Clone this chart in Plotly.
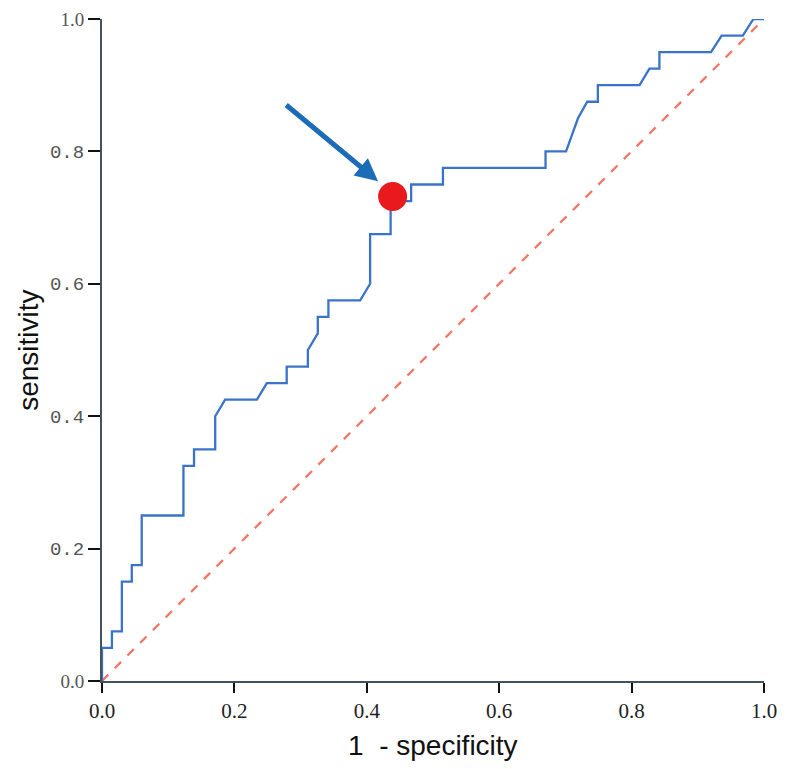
import plotly.graph_objects as go

# ROC curve vertices (1 - specificity, sensitivity)
fpr = [0.0, 0.0, 0.015, 0.015, 0.030, 0.030, 0.045, 0.045, 0.060, 0.060,
       0.123, 0.123, 0.139, 0.139, 0.171, 0.171, 0.186, 0.234, 0.249, 0.279,
       0.279, 0.311, 0.311, 0.326, 0.326, 0.342, 0.342, 0.390, 0.405, 0.405,
       0.436, 0.436, 0.467, 0.467, 0.515, 0.515, 0.670, 0.670, 0.701, 0.719,
       0.733, 0.749, 0.749, 0.812, 0.827, 0.842, 0.842, 0.920, 0.936, 0.968,
       0.984, 1.0]
tpr = [0.0, 0.05, 0.05, 0.075, 0.075, 0.15, 0.15, 0.175, 0.175, 0.25,
       0.25, 0.325, 0.325, 0.35, 0.35, 0.40, 0.425, 0.425, 0.45, 0.45,
       0.475, 0.475, 0.50, 0.525, 0.55, 0.55, 0.575, 0.575, 0.60, 0.675,
       0.675, 0.725, 0.725, 0.75, 0.75, 0.775, 0.775, 0.80, 0.80, 0.85,
       0.875, 0.875, 0.90, 0.90, 0.925, 0.925, 0.95, 0.95, 0.975, 0.975,
       1.0, 1.0]

# reference (chance) line
ref_x = [0.0, 1.0]
ref_y = [0.0, 1.0]

# optimal cut-off point and arrow tail/tip
cut_x = [0.439]
cut_y = [0.732]
arrow_tip = (0.417, 0.755)
arrow_tail = (0.276, 0.872)

tick_vals = [0.0, 0.2, 0.4, 0.6, 0.8, 1.0]
x_tick_text = ["0.0", "0.2", "0.4", "0.6", "0.8", "1.0"]
y_tick_text = ["<span style='font-family:Liberation Serif;font-size:19px'>0.0</span>",
               "0.2", "0.4", "0.6", "0.8",
               "<span style='font-family:Liberation Serif;font-size:19px'>1.0</span>"]

fig = go.Figure()
fig.add_trace(go.Scatter(x=ref_x, y=ref_y, mode="lines",
                         line=dict(color="#F07868", width=2.3, dash="dash"),
                         showlegend=False, hoverinfo="skip"))
fig.add_trace(go.Scatter(x=fpr, y=tpr, mode="lines",
                         line=dict(color="#3A73C9", width=2.3),
                         showlegend=False))
fig.add_trace(go.Scatter(x=cut_x, y=cut_y, mode="markers",
                         marker=dict(color="#E81A1E", size=29, line=dict(width=0)),
                         showlegend=False))

fig.add_annotation(x=arrow_tip[0], y=arrow_tip[1], ax=arrow_tail[0], ay=arrow_tail[1],
                   xref="x", yref="y", axref="x", ayref="y", text="",
                   showarrow=True, arrowhead=2, arrowsize=0.9, arrowwidth=5,
                   arrowcolor="#1C6CB8")

fig.add_annotation(text="sensitivity", xref="paper", yref="paper",
                   x=-0.112, y=0.5, textangle=-90, showarrow=False,
                   xanchor="center", yanchor="middle",
                   font=dict(family="Liberation Sans", size=28, color="#111111"))
fig.add_annotation(text="1  - specificity", xref="paper", yref="paper",
                   x=0.5, y=-0.097, showarrow=False,
                   xanchor="center", yanchor="middle",
                   font=dict(family="Liberation Sans", size=28, color="#111111"))

fig.update_xaxes(range=[0, 1], tickvals=tick_vals, ticktext=x_tick_text,
                 showgrid=False, zeroline=False, showline=True,
                 linecolor="#44525E", linewidth=2, ticks="outside",
                 ticklen=10, tickwidth=2, tickcolor="#111111",
                 ticklabeloverflow="allow",
                 tickfont=dict(family="Liberation Serif", size=21, color="#222222"))
fig.update_yaxes(range=[0, 1], tickvals=tick_vals, ticktext=y_tick_text,
                 showgrid=False, zeroline=False, showline=True,
                 linecolor="#44525E", linewidth=2, ticks="outside",
                 ticklen=12, tickwidth=2, tickcolor="#111111",
                 ticklabeloverflow="allow",
                 tickfont=dict(family="Liberation Mono", size=19, color="#555555"))

fig.update_layout(width=800, height=769,
                  margin=dict(l=94, r=44, t=11, b=96, autoexpand=False),
                  plot_bgcolor="white", paper_bgcolor="white")

fig.write_html("out.html")
